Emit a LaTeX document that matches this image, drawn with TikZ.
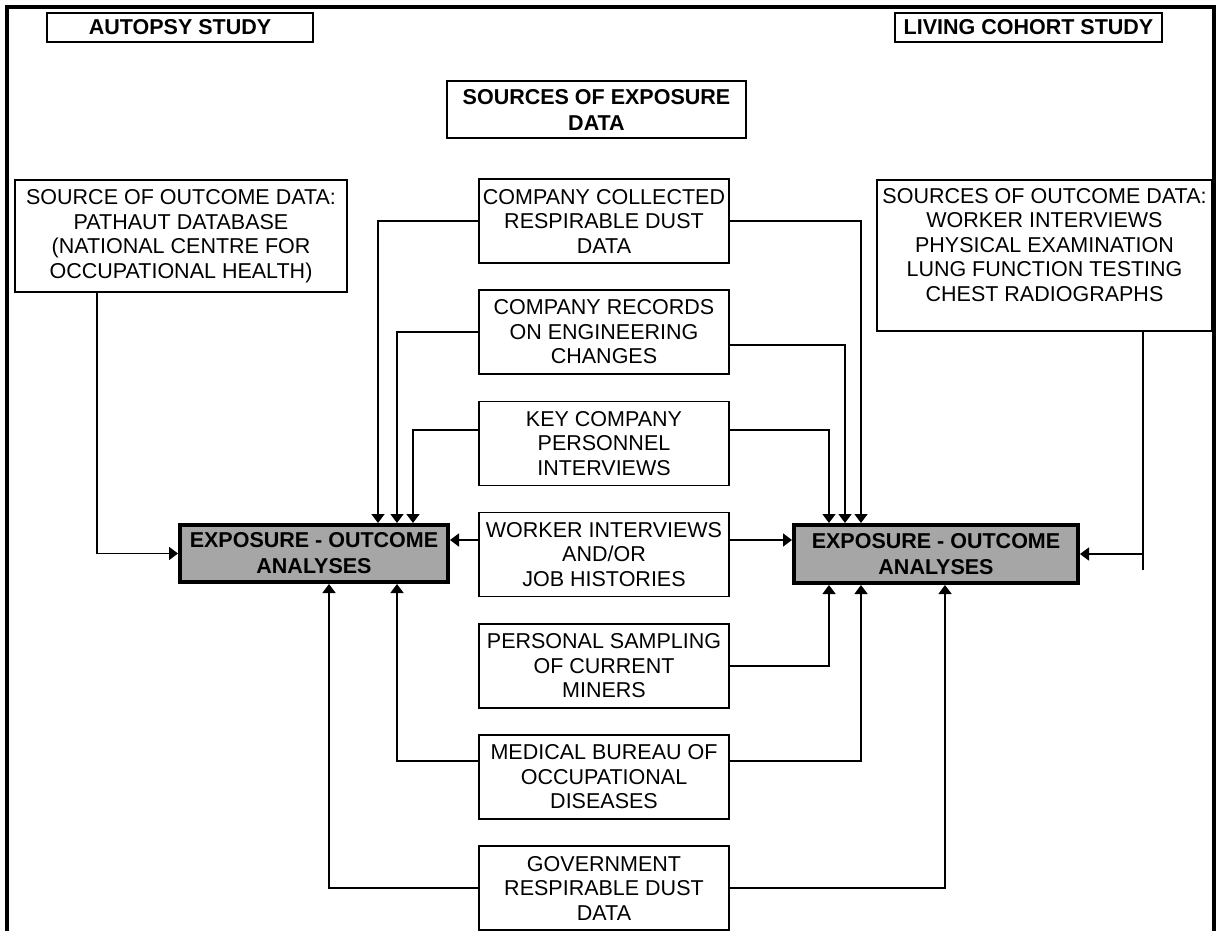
\documentclass[tikz,border=0pt]{standalone}
\usepackage{fontspec}
\setmainfont{Liberation Sans}
\usetikzlibrary{arrows.meta}
\newcommand\fsz{\fontsize{21.5}{24.5}\selectfont}
\newcommand\bfsz{\fontsize{21.5}{26}\selectfont\bfseries}
\begin{document}
\begin{tikzpicture}[x=1pt,y=-1pt,
  box/.style={draw, line width=1.6pt, inner sep=0pt, align=center, font=\fsz},
  hdr/.style={draw, line width=1.6pt, inner sep=0pt, align=center, font=\bfsz},
  cbox/.style={box, minimum width=250pt, minimum height=84pt},
  expo/.style={draw, line width=4pt, fill=black!35, inner sep=0pt, align=center, font=\bfsz},
  conn/.style={line width=1.5pt},
  arr/.style={line width=1.5pt, -{Triangle[length=9pt,width=13pt]}},
  txt/.style={inner sep=0pt, align=center, font=\fsz}]
\useasboundingbox (0,0) rectangle (1220,931);
% outer frame
\draw[line width=4pt] (7,940) -- (7,7) -- (1214,7) -- (1214,940);
% headers
\node[hdr, minimum width=266pt, minimum height=29pt] (autopsy) at (180,27.5) {AUTOPSY STUDY};
\node[hdr, minimum width=267pt, minimum height=29pt] (living) at (1028.5,27.5) {LIVING COHORT STUDY};
\node[hdr, minimum width=299pt, minimum height=57pt] (srcexp) at (596.5,109.5) {SOURCES OF EXPOSURE\\DATA};
% outcome sources
\node[box, minimum width=332pt, minimum height=112pt] (outL) at (181,236) {SOURCE OF OUTCOME DATA:\\PATHAUT DATABASE\\(NATIONAL CENTRE FOR\\OCCUPATIONAL HEALTH)};
\node[box, minimum width=335pt, minimum height=151pt] (outR) at (1044.5,255.5) {};
\node[txt, anchor=north] (outRt) at (1044.5,188) {SOURCES OF OUTCOME DATA:\\WORKER INTERVIEWS\\PHYSICAL EXAMINATION\\LUNG FUNCTION TESTING\\CHEST RADIOGRAPHS};
% central sources
\node[cbox] (cc)  at (604,221)   {COMPANY COLLECTED\\RESPIRABLE DUST\\DATA};
\node[cbox] (cr)  at (604,332)   {COMPANY RECORDS\\ON ENGINEERING\\CHANGES};
\node[cbox] (key) at (604,443.5) {KEY COMPANY\\PERSONNEL\\INTERVIEWS};
\node[cbox] (wi)  at (604,554.5) {WORKER INTERVIEWS\\AND/OR\\JOB HISTORIES};
\node[cbox] (ps)  at (604,666)   {PERSONAL SAMPLING\\OF CURRENT\\MINERS};
\node[cbox] (mb)  at (604,777)   {MEDICAL BUREAU OF\\OCCUPATIONAL\\DISEASES};
\node[cbox] (gov) at (604,888)   {GOVERNMENT\\RESPIRABLE DUST\\DATA};
% analyses
\node[expo, minimum width=268pt, minimum height=57pt] (exL) at (314,553.5) {EXPOSURE - OUTCOME\\ANALYSES};
\node[expo, minimum width=284pt, minimum height=58pt] (exR) at (936,554) {EXPOSURE - OUTCOME\\ANALYSES};
% connectors to left analyses (top)
\draw[arr] (cc.west) -| ([xshift=64pt]exL.north);
\draw[arr] (cr.west) -| ([xshift=83pt]exL.north);
\draw[arr] ([yshift=13.5pt]key.west) -| ([xshift=99pt]exL.north);
% connectors to right analyses (top)
\draw[arr] (cc.east) -| ([xshift=-75pt]exR.north);
\draw[arr] ([yshift=-13pt]cr.east) -| ([xshift=-91pt]exR.north);
\draw[arr] ([yshift=13.5pt]key.east) -| ([xshift=-107pt]exR.north);
% worker interviews
\coordinate (wiL) at ([yshift=14.5pt]wi.west);
\coordinate (wiR) at ([yshift=14.5pt]wi.east);
\draw[arr] (wiL) -- (wiL -| exL.east);
\draw[arr] (wiR) -- (wiR -| exR.west);
% bottom connectors
\draw[arr] (ps.east) -| ([xshift=-107pt]exR.south);
\draw[arr] ([yshift=16pt]mb.west) -| ([xshift=83pt]exL.south);
\draw[arr] ([yshift=16pt]mb.east) -| ([xshift=-75pt]exR.south);
\draw[arr] (gov.west) -| ([xshift=15pt]exL.south);
\draw[arr] (gov.east) -| ([xshift=9pt]exR.south);
% outcome connectors
\draw[arr] ([xshift=-84pt]outL.south) |- (exL.west);
\coordinate (outRb) at ([xshift=98.5pt]outR.south);
\coordinate (outRend) at (1143,570);
\draw[conn] (outRb) -- (outRend);
\draw[arr] (outRb |- exR.east) -- (exR.east);
\end{tikzpicture}
\end{document}
